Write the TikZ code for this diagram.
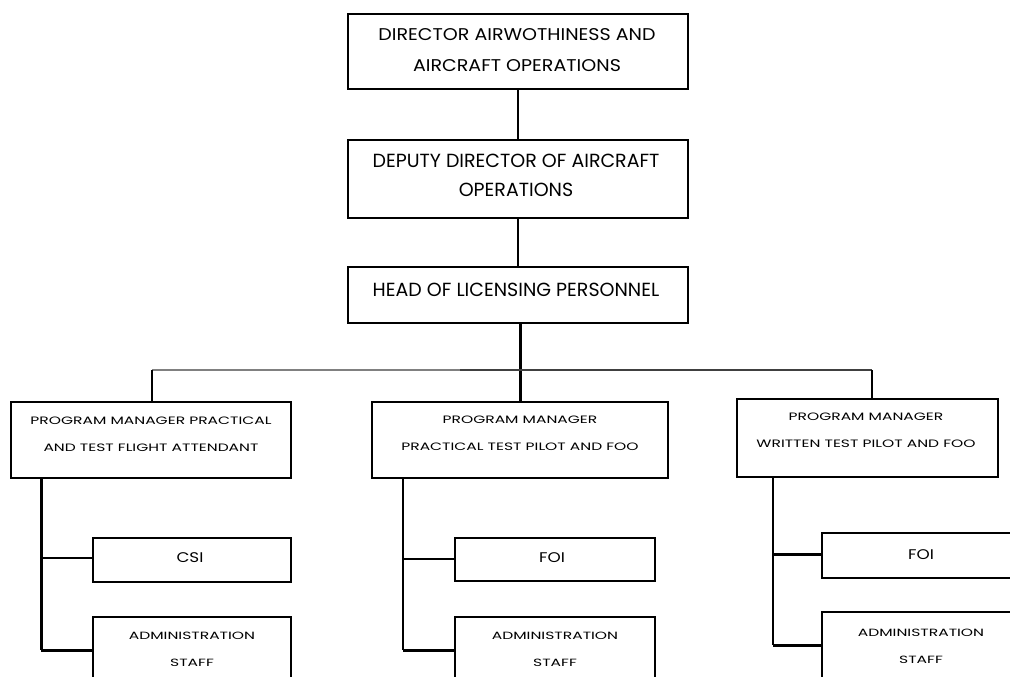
\documentclass[tikz,border=0pt]{standalone}
\usepackage{fontspec}
\setmainfont{Poppins}
\begin{document}
\begin{tikzpicture}[x=1pt,y=-1pt,
  box/.style={draw=black, line width=1.3pt, fill=white, inner sep=0pt},
  lbl/.style={inner sep=0pt, align=center, text=black, transform shape},
  thin/.style={line width=1.5pt, draw=black},
  thick/.style={line width=3pt, draw=black},
  fA/.style={font=\fontsize{17}{31}\selectfont, xscale=1.12},
  fB/.style={font=\fontsize{19}{29}\selectfont},
  fC/.style={font=\fontsize{10.7}{27}\selectfont, xscale=1.45},
  fD/.style={font=\fontsize{14}{27}\selectfont, xscale=1.2},
  fE/.style={font=\fontsize{10.5}{27}\selectfont, xscale=1.48}]
\useasboundingbox (0,0) rectangle (1010,677);
\clip (0,0) rectangle (1010,677);
\fill[white] (0,0) rectangle (1010,677);

% boxes
\node[box, minimum width=340pt, minimum height=75pt] (top) at (518,51.5) {};
\node[box, minimum width=340pt, minimum height=78pt] (dep) at (518,179) {};
\node[box, minimum width=340pt, minimum height=56pt] (head) at (518,295) {};
\node[box, minimum width=280pt, minimum height=76pt] (pmA) at (151,440) {};
\node[box, minimum width=296pt, minimum height=76pt] (pmB) at (520,440) {};
\node[box, minimum width=261pt, minimum height=78pt] (pmC) at (867.5,438) {};
\node[box, minimum width=198pt, minimum height=44pt] (csi) at (192,560) {};
\node[box, minimum width=198pt, minimum height=90pt] (admA) at (192,662) {};
\node[box, minimum width=200pt, minimum height=43pt] (foiB) at (555,559.5) {};
\node[box, minimum width=200pt, minimum height=90pt] (admB) at (555,662) {};
\node[box, minimum width=208pt, minimum height=45pt] (foiC) at (926,555.5) {};
\node[box, minimum width=208pt, minimum height=90pt] (admC) at (926,657) {};

% labels
\node[lbl, fA] (tTop) at (517,50.5) {DIRECTOR AIRWOTHINESS AND\\AIRCRAFT OPERATIONS};
\node[lbl, fB] (tDep) at (516,175.5) {DEPUTY DIRECTOR OF AIRCRAFT\\OPERATIONS};
\node[lbl, fB] (tHead) at (516,290) {HEAD OF LICENSING PERSONNEL};
\node[lbl, fC] (tpmA) at (151,434.5) {PROGRAM MANAGER PRACTICAL\\AND TEST FLIGHT ATTENDANT};
\node[lbl, fC] (tpmB) at (520,433.5) {PROGRAM MANAGER\\PRACTICAL TEST PILOT AND FOO};
\node[lbl, fC] (tpmC) at (866,430.5) {PROGRAM MANAGER\\WRITTEN TEST PILOT AND FOO};
\node[lbl, fD] (tcsi) at (190,558) {CSI};
\node[lbl, fD] (tfoiB) at (552,558) {FOI};
\node[lbl, fD] (tfoiC) at (921,555) {FOI};
\node[lbl, fE] (tadmA) at (192,649.5) {ADMINISTRATION\\STAFF};
\node[lbl, fE] (tadmB) at (555,649.5) {ADMINISTRATION\\STAFF};
\node[lbl, fE] (tadmC) at (921,646) {ADMINISTRATION\\STAFF};

% junction coordinates
\coordinate (hL) at (152,370);
\coordinate (hG) at (460,370);
\coordinate (hM) at (520,370);
\coordinate (hR) at (872,370);
\coordinate (vA1) at (41,558);
\coordinate (vA2) at (41,650);
\coordinate (vB1) at (403,559);
\coordinate (vB2) at (403,650);
\coordinate (vC1) at (773,554);
\coordinate (vC2) at (773,645);

% connectors
\draw[thin] (top.south) -- (dep.north);
\draw[thin] (dep.south) -- (head.north);
\draw[thick] (head.south -| hM) -- (pmB.north -| hM);
\draw[line width=2pt, draw=black!50] (hL) -- (hG);
\draw[line width=2pt, draw=black!75] (hG) -- (hR);
\draw[thin] (hL) -- (pmA.north -| hL);
\draw[thin] (hR) -- (pmC.north -| hR);

\draw[thick] (pmA.south -| vA1) -- (vA2);
\draw[thin] (vA1) -- (csi.west |- vA1);
\draw[thick] (vA2) -- (admA.west |- vA2);

\draw[thin] (pmB.south -| vB1) -- (vB2);
\draw[thin] (vB1) -- (foiB.west |- vB1);
\draw[thick] (vB2) -- (admB.west |- vB2);

\draw[thin] (pmC.south -| vC1) -- (vC2);
\draw[thick] (vC1) -- (foiC.west |- vC1);
\draw[thick] (vC2) -- (admC.west |- vC2);
\end{tikzpicture}
\end{document}
